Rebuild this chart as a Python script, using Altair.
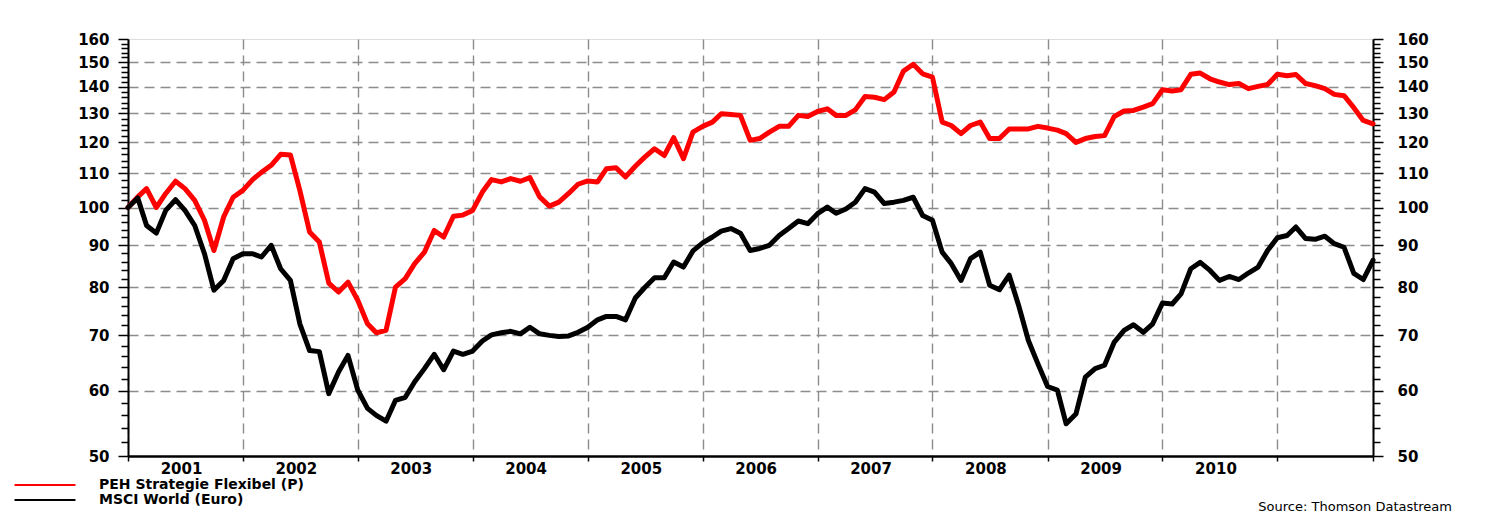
import altair as alt
import pandas as pd

# ---------------- data ----------------
months = pd.date_range("2001-01-01", periods=131, freq="MS").strftime("%Y-%m-%d").tolist()

peh = [100, 103, 105.4, 100, 104, 107.6, 105.4, 102, 96.5, 88.7,
       97.4, 102.9, 104.9, 108.1, 110.3, 112.5, 116, 115.8, 104.9, 93.4,
       90.8, 81, 79, 81.2, 77.2, 72.3, 70.5, 71, 80.1, 82,
       85.5, 88.3, 93.8, 92.1, 97.6, 97.9, 99.2, 104.4, 108.1, 107.4,
       108.4, 107.6, 108.7, 103, 100.4, 101.5, 104, 106.7, 107.7, 107.4,
       111.4, 111.7, 108.9, 112.2, 115.1, 117.8, 115.6, 121.5, 114.6, 123.4,
       125.4, 126.9, 129.9, 129.6, 129.3, 120.6, 121.2, 123.4, 125.4, 125.4,
       129.3, 128.9, 130.7, 131.7, 129.3, 129.3, 131.3, 136.3, 136, 135.1,
       138, 146.3, 149.1, 145.2, 143.9, 126.9, 125.7, 122.9, 125.7, 126.9,
       121.2, 121.2, 124.5, 124.5, 124.5, 125.4, 124.8, 124.1, 122.9, 119.9,
       121.2, 121.9, 122.2, 128.9, 130.9, 131.1, 132.3, 133.6, 138.9, 138.4,
       138.9, 145, 145.5, 143.2, 141.9, 140.9, 141.3, 139.3, 140.2, 140.9,
       145, 144.4, 144.9, 141.3, 140.5, 139.3, 137.1, 136.6, 132.1, 127.5,
       126.3]

msci = [100, 102.7, 95.1, 93.1, 99.2, 102.2, 99.2, 95.1, 87.9, 79.4,
        81.6, 86.7, 87.9, 87.9, 87.1, 90, 84.3, 81.6, 72.3, 67.1,
        66.9, 59.5, 63.2, 66.2, 60.1, 57.1, 56, 55.1, 58.4, 58.9,
        61.5, 63.8, 66.4, 63.6, 67, 66.4, 67, 68.9, 70.1, 70.5,
        70.8, 70.3, 71.6, 70.3, 70, 69.8, 69.9, 70.6, 71.6, 73.1,
        73.8, 73.8, 73.1, 77.7, 80, 82.2, 82.2, 85.9, 84.7, 88.6,
        90.6, 92.1, 93.6, 94.3, 93.1, 88.7, 89.2, 90, 92.5, 94.3,
        96.3, 95.6, 98.3, 100.1, 98.4, 99.6, 101.5, 105.4, 104.4, 101.1,
        101.5, 102, 102.9, 97.8, 96.5, 88.3, 85.5, 81.6, 86.7, 88.3,
        80.5, 79.5, 82.8, 76.1, 69, 64.7, 60.7, 60.1, 54.7, 56.2,
        62.3, 63.8, 64.4, 68.7, 71, 72.1, 70.6, 72.3, 76.6, 76.4,
        78.6, 84.3, 85.8, 83.9, 81.6, 82.5, 81.8, 83.3, 84.7, 88.7,
        91.9, 92.5, 94.7, 91.7, 91.5, 92.3, 90.4, 89.5, 83.2, 81.8,
        86.3]

series_names = ["PEH Strategie Flexibel (P)", "MSCI World (Euro)"]
series_colors = ["#ff0000", "#000000"]
year_ticks = list(range(2001, 2012))
y_ticks = list(range(50, 161, 2))
source_text = "Source: Thomson Datastream"

assert len(peh) == len(months) == len(msci)

df = pd.DataFrame({
    "date": months * 2,
    "value": peh + msci,
    "series": [series_names[0]] * len(peh) + [series_names[1]] * len(msci),
})

FONT = "DejaVu Sans"
GRID_COLOR = "#8c8c8c"

end_dt = alt.DateTime(year=2011, month=11, date=1, utc=True)
start_dt = alt.DateTime(year=2001, month=1, date=1, utc=True)

x_axis = alt.Axis(
    values=[alt.DateTime(year=y, month=1, date=1, utc=True) for y in year_ticks] + [end_dt],
    labelExpr="utcmonth(datum.value) == 0 && utcyear(datum.value) <= 2010 ? utcFormat(datum.value, '%Y') : ''",
    labelOffset=53, labelFlush=False, labelOverlap=False, labelBound=False,
    tickSize=5, tickColor="black", tickWidth=1.5,
    domainColor="black", domainWidth=2.5,
    grid=True, gridDash=[10, 6], gridColor=GRID_COLOR, gridWidth=1.4,
    labelFont=FONT, labelFontSize=15, labelFontWeight="bold", labelColor="black",
    labelPadding=0, title=None,
)
x_enc = alt.X("date:T", scale=alt.Scale(type="utc", domain=[start_dt, end_dt], nice=False), axis=x_axis)

major = "datum.value % 10 == 0"
y_scale = alt.Scale(type="log", domain=[50, 160], nice=False)


def y_axis(orient, grid, pad):
    kw = dict(
        orient=orient, values=y_ticks, format="d",
        labelExpr=f"{major} ? datum.label : ''",
        labelOverlap=False,
        tickSize={"condition": {"test": major, "value": 10}, "value": 7},
        tickColor="black", tickWidth=1.5,
        domainColor="black", domainWidth=2,
        labelFont=FONT, labelFontSize=15, labelFontWeight="bold", labelColor="black",
        labelPadding=pad, title=None, grid=grid,
    )
    if grid:
        kw.update(
            gridDash=[10, 6], gridColor=GRID_COLOR, gridWidth=1.4,
            gridOpacity={"condition": {"test": f"{major} && datum.value > 50 && datum.value < 160", "value": 1}, "value": 0},
        )
    return alt.Axis(**kw)


color_enc = alt.Color(
    "series:N",
    scale=alt.Scale(domain=series_names, range=series_colors),
    legend=alt.Legend(
        orient="none", legendX=-90, legendY=439, title=None,
        symbolType="M-8,0H8", symbolSize=58, symbolStrokeWidth=2,
        labelFont=FONT, labelFontSize=14, labelFontWeight="bold", labelColor="black",
        labelOffset=47, rowPadding=1, labelLimit=0,
    ),
)

base = alt.Chart(df)

red = base.transform_filter(alt.datum.series == series_names[0]).mark_line(
    strokeWidth=5, strokeJoin="round", strokeCap="round"
).encode(
    x=x_enc,
    y=alt.Y("value:Q", scale=y_scale, axis=y_axis("left", True, 9)),
    color=color_enc,
)

black = base.transform_filter(alt.datum.series == series_names[1]).mark_line(
    strokeWidth=5, strokeJoin="round", strokeCap="round"
).encode(
    x=x_enc,
    y=alt.Y("value:Q", scale=y_scale, axis=y_axis("right", False, 14)),
    color=color_enc,
)

chart = alt.layer(red, black).resolve_axis(y="independent").properties(
    width=1245, height=417,
    padding={"left": 120, "top": 31, "right": 107, "bottom": 61},
    autosize=alt.AutoSizeParams(type="none"),
    title=alt.TitleParams(
        text=source_text, orient="bottom", anchor="end", frame="group",
        dx=79, dy=-6, offset=0, font=FONT, fontSize=13, fontWeight="normal", color="black",
    ),
).configure_view(stroke="#444", strokeWidth=1).configure(background="white")

chart.save("out.html", embed_options={"renderer": "svg", "actions": False})
